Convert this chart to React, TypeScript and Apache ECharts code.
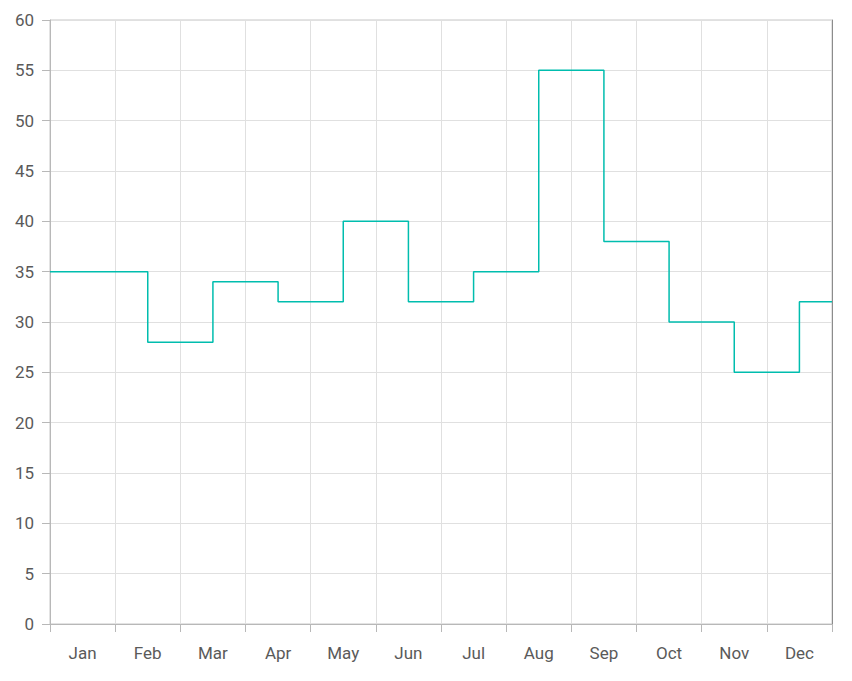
import { useRef, useEffect } from "react";
import * as echarts from "echarts";

// 月份与数值
const months = ["Jan", "Feb", "Mar", "Apr", "May", "Jun", "Jul", "Aug", "Sep", "Oct", "Nov", "Dec"];
const values = [35, 28, 34, 32, 40, 32, 35, 55, 38, 30, 25, 32];

const App = () => {
  const chartRef = useRef<HTMLDivElement>(null);

  useEffect(() => {
    const myChart = echarts.init(chartRef.current, null, { renderer: "svg" });

    // 阶梯线两端延伸到绘图区边缘
    const points: number[][] = values.map((v, i) => [i, v]);
    points.unshift([-0.5, values[0]]);
    points.push([months.length - 0.5, values[values.length - 1]]);

    const labelStyle = { color: "#5a5a5a", fontSize: 17, fontFamily: "Roboto" };

    const option = {
      animation: false,
      grid: {
        left: 42,
        right: 12,
        top: 12,
        bottom: 49,
        show: true,
        borderColor: "#c6c6c6",
        borderWidth: 1,
      },
      xAxis: [
        {
          type: "category",
          data: months,
          boundaryGap: true,
          axisLine: { onZero: false, lineStyle: { color: "#b8b8b8" } },
          axisTick: { show: true, length: 8, lineStyle: { color: "#b8b8b8" } },
          axisLabel: { ...labelStyle, margin: 20 },
          splitLine: { show: true, lineStyle: { color: "#e0e0e0" } },
        },
        {
          type: "value",
          min: -0.5,
          max: months.length - 0.5,
          show: false,
        },
      ],
      yAxis: [
        {
          type: "value",
          min: 0,
          max: 60,
          interval: 5,
          axisLine: { show: true, onZero: false, lineStyle: { color: "#b8b8b8" } },
          axisTick: { show: true, length: 8, lineStyle: { color: "#b8b8b8" } },
          axisLabel: { ...labelStyle, margin: 16 },
          splitLine: { show: true, lineStyle: { color: "#e0e0e0" } },
        },
        {
          type: "value",
          position: "right",
          min: 0,
          max: 60,
          axisLine: { show: true, onZero: false, lineStyle: { color: "#8c8c8c" } },
          axisTick: { show: false },
          axisLabel: { show: false },
          splitLine: { show: false },
        },
      ],
      series: [
        {
          type: "line",
          xAxisIndex: 1,
          yAxisIndex: 0,
          step: "end",
          data: points,
          showSymbol: false,
          lineStyle: { color: "#00bdae", width: 1.5 },
        },
      ],
    };

    myChart.setOption(option);

    return () => {
      myChart.dispose();
    };
  }, []);

  return <div ref={chartRef} style={{ width: "836px", height: "665px" }}></div>;
};

export default App;
